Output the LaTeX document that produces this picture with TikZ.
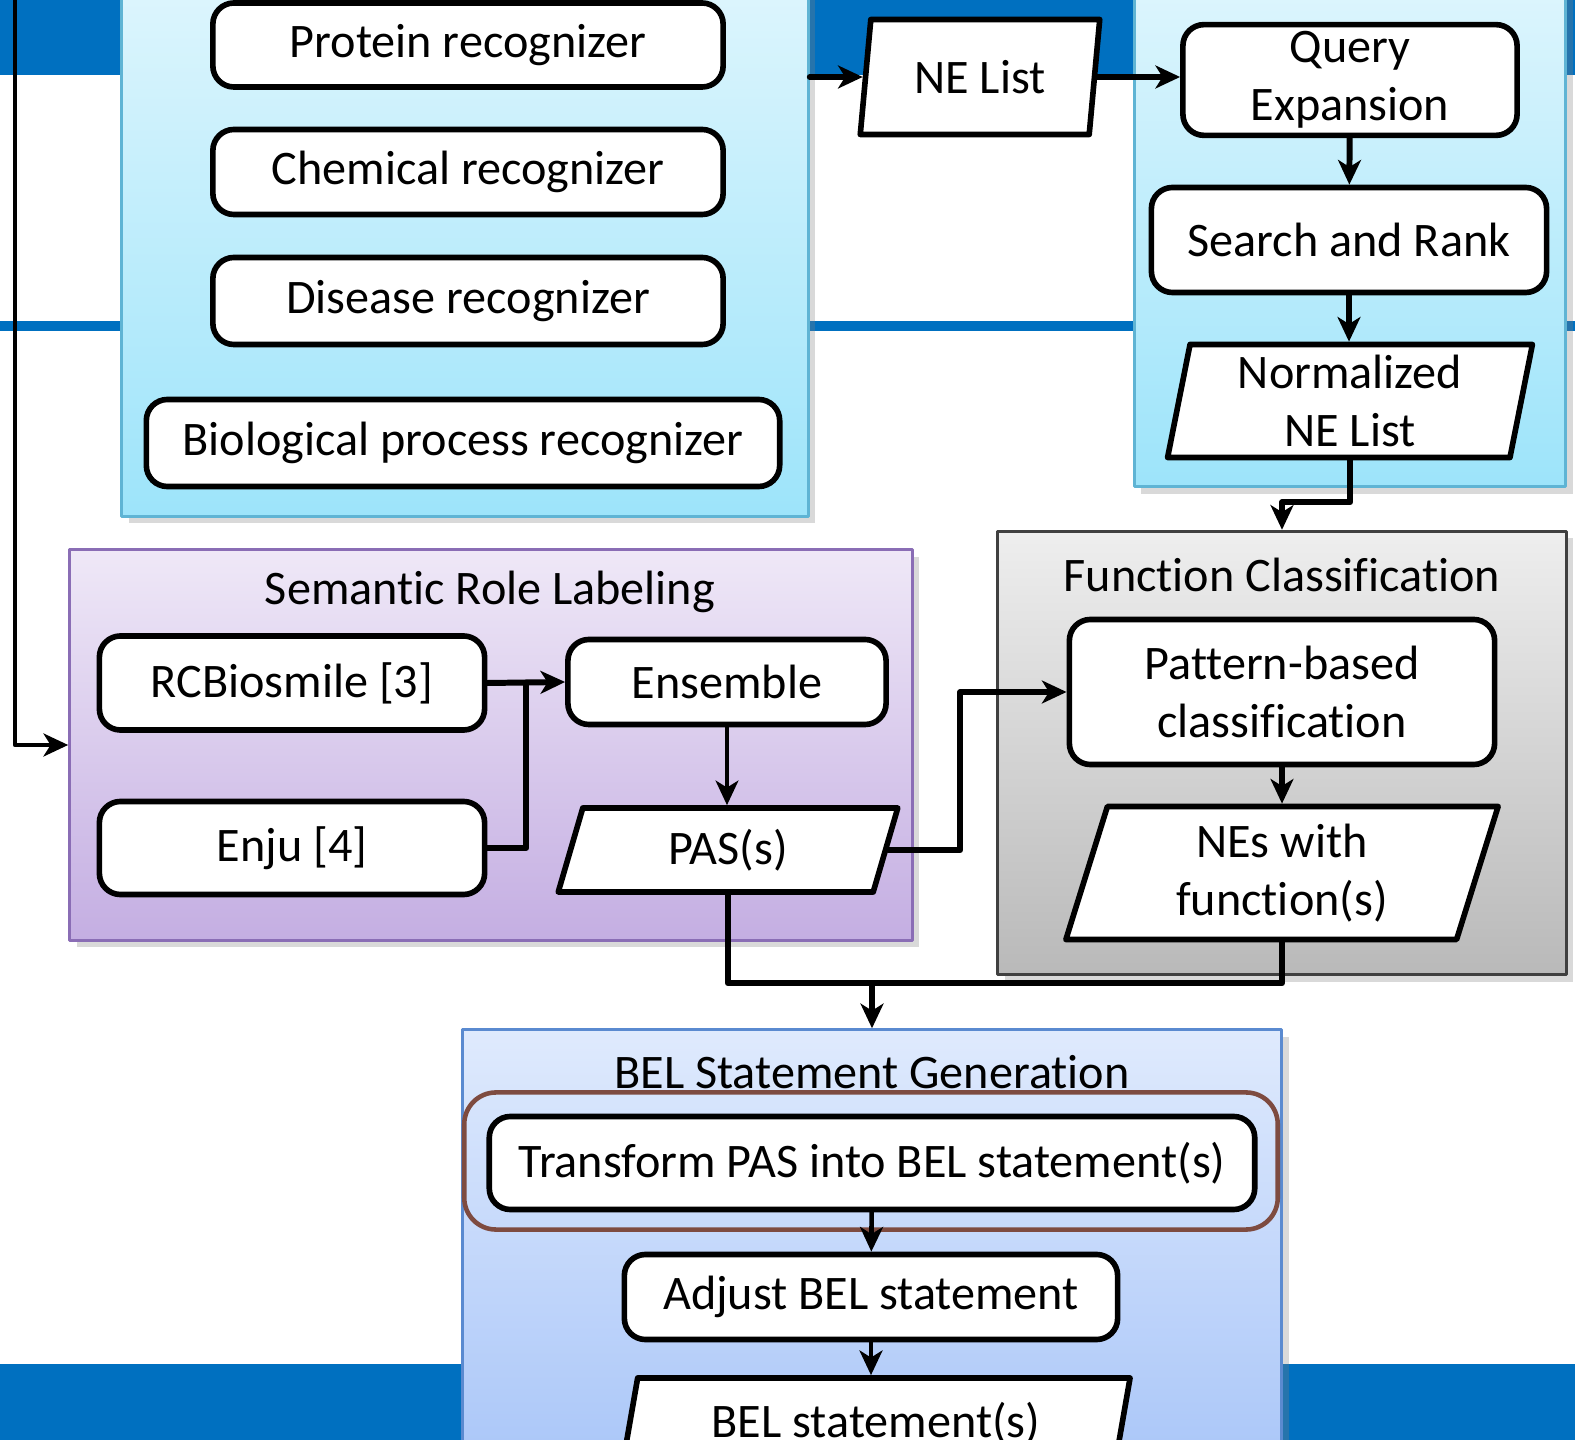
\documentclass[tikz,border=0pt]{standalone}
\usepackage{fontspec}
\setmainfont{Carlito}[Ligatures=NoCommon]
\usetikzlibrary{arrows.meta,calc,shapes.geometric,shadows}
\definecolor{bandblue}{HTML}{0070C0}
\definecolor{nertop}{HTML}{E0F6FD}
\definecolor{nerbot}{HTML}{9DE4FA}
\definecolor{nerline}{HTML}{5FB4D4}
\definecolor{srltop}{HTML}{EFE8F7}
\definecolor{srlbot}{HTML}{C4AEE2}
\definecolor{srlline}{HTML}{8A6DB5}
\definecolor{fctop}{HTML}{EEEEEE}
\definecolor{fcbot}{HTML}{B9B9B9}
\definecolor{fcline}{HTML}{404040}
\definecolor{beltop}{HTML}{DFEAFD}
\definecolor{belbot}{HTML}{A8C5F8}
\definecolor{belline}{HTML}{5A8AD0}
\definecolor{hlbrown}{HTML}{7E4B40}

\begin{document}
\begin{tikzpicture}[x=0.01cm, y=-0.01cm, line cap=round, line join=round, >={Stealth[length=7pt,width=6.5pt,inset=2pt]}, font=\fontsize{13.7}{16.4}\selectfont]
\tikzset{procbox/.style={draw, line width=1.6pt, rounded corners=6pt, fill=white, align=center, inner sep=2pt},
  databox/.style 2 args={draw, line width=1.6pt, fill=white, align=center, inner sep=2pt, trapezium, trapezium left angle=#1, trapezium right angle=#2, trapezium stretches=true},
  panel/.style n args={3}{draw=#3, line width=0.9pt, top color=#1, bottom color=#2, inner sep=0pt, drop shadow={opacity=0.3, shadow xshift=2pt, shadow yshift=-2pt}},
  conn/.style={->, line width=1.7pt}, thinconn/.style={->, line width=1pt}, wire/.style={line width=1.7pt}}

\useasboundingbox (0,0) rectangle (1575,1440);
\clip (0,0) rectangle (1575,1440);

% slide background bands
\fill[bandblue] (0,0) rectangle (1575,75);
\fill[bandblue] (0,321) rectangle (1575,331);
\fill[bandblue] (0,1364) rectangle (1575,1440);

% named entity recognition
\node[panel={nertop}{nerbot}{nerline}, minimum width=6.86cm, minimum height=5.56cm] (ner) at (465,238) {};
\node[procbox, minimum width=5.10cm, minimum height=0.84cm] (prot) at (468,45) {Protein recognizer};
\node[procbox, minimum width=5.10cm, minimum height=0.85cm] (chem) at (468,172) {Chemical recognizer};
\node[procbox, minimum width=5.10cm, minimum height=0.87cm] (dis) at (468,301) {Disease recognizer};
\node[procbox, minimum width=6.33cm, minimum height=0.87cm] (bio) at (463,443) {Biological process recognizer};

\node[databox={81.6}{98.4}, minimum width=2.40cm, minimum height=1.15cm] (nelist) at (980,77) {NE List};

% normalization
\node[panel={nertop}{nerbot}{nerline}, minimum width=4.31cm, minimum height=5.27cm] (norm) at (1350,223) {};
\node[procbox, minimum width=3.34cm, minimum height=1.10cm] (qe) at (1350,80) {Query\\Expansion};
\node[procbox, minimum width=3.95cm, minimum height=1.05cm] (sr) at (1349,240) {Search and Rank};
\node[databox={81}{99}, minimum width=3.66cm, minimum height=1.13cm] (nnl) at (1350,401) {Normalized\\NE List};

% function classification
\node[panel={fctop}{fcbot}{fcline}, minimum width=5.68cm, minimum height=4.43cm] (fc) at (1282,753) {};
\node (fctitle) at (1282,575) {Function Classification};
\node[procbox, minimum width=4.25cm, minimum height=1.45cm] (pbc) at (1282,692) {Pattern-based\\classification};
\node[databox={76.5}{103.5}, minimum width=4.35cm, minimum height=1.33cm] (nes) at (1282,873) {NEs with\\function(s)};

% semantic role labeling
\node[panel={srltop}{srlbot}{srlline}, minimum width=8.42cm, minimum height=3.90cm] (srl) at (491,745) {};
\node (srltitle) at (490,592) {Semantic Role Labeling};
\node[procbox, minimum width=3.85cm, minimum height=0.94cm] (rcb) at (292,683) {RCBiosmile [3]};
\node[procbox, minimum width=3.85cm, minimum height=0.93cm] (enju) at (292,848) {Enju [4]};
\node[procbox, minimum width=3.18cm, minimum height=0.85cm] (ens) at (727,682) {Ensemble};
\node[databox={78.6}{101.4}, minimum width=3.40cm, minimum height=0.84cm] (pas) at (728,850) {PAS(s)};

% BEL statement generation
\node[panel={beltop}{belbot}{belline}, minimum width=8.19cm, minimum height=4.50cm] (bel) at (872,1255) {};
\node (beltitle) at (872,1072) {BEL Statement Generation};
\node[draw=hlbrown, line width=1.3pt, rounded corners=9pt, minimum width=8.13cm, minimum height=1.37cm] (hl) at (871,1161) {};
\node[procbox, minimum width=7.65cm, minimum height=0.93cm] (tr) at (872,1163) {Transform PAS into BEL statement(s)};
\node[procbox, minimum width=4.93cm, minimum height=0.85cm] (adj) at (871,1297) {Adjust BEL statement};
\node[databox={78.6}{101.4}, minimum width=5.08cm, minimum height=0.90cm] (bels) at (876,1423) {BEL statement(s)};

% connectors
\coordinate (feed) at (15,-5);
\draw[conn, line width=1.3pt] (feed) |- (srl.west);
\draw[conn] (ner.east |- nelist.left side) -- (nelist.left side);
\draw[conn] (nelist.right side) -- (nelist.right side -| qe.west);
\draw[conn] (qe) -- (sr);
\draw[conn] (sr.south) -- (sr.south |- nnl.top side);
\draw[conn] (nnl.center |- nnl.bottom side) -- ++(0,42) -| (fc.north);
\draw[conn] (rcb.east) -- (ens.west);
\coordinate (jn) at ($(rcb.east)!0.5!(ens.west)$);
\draw[wire] (enju.east) -| (jn);
\draw[thinconn] (ens.south) -- (ens.south |- pas.top side);
\draw[conn] (pas.right side) -- ++(72,0) |- (pbc.west);
\draw[conn] (pbc.south) -- (pbc.south |- nes.top side);
\coordinate (mrg) at ($(bel.north)+(0,-45)$);
\draw[wire] (pas.center |- pas.bottom side) |- (mrg);
\draw[wire] (nes.center |- nes.bottom side) |- (mrg);
\draw[conn] (mrg) -- (bel.north);
\draw[conn, line width=1.3pt] (tr) -- (adj);
\draw[conn, line width=1.3pt] (adj.south) -- (adj.south |- bels.top side);
\end{tikzpicture}
\end{document}
